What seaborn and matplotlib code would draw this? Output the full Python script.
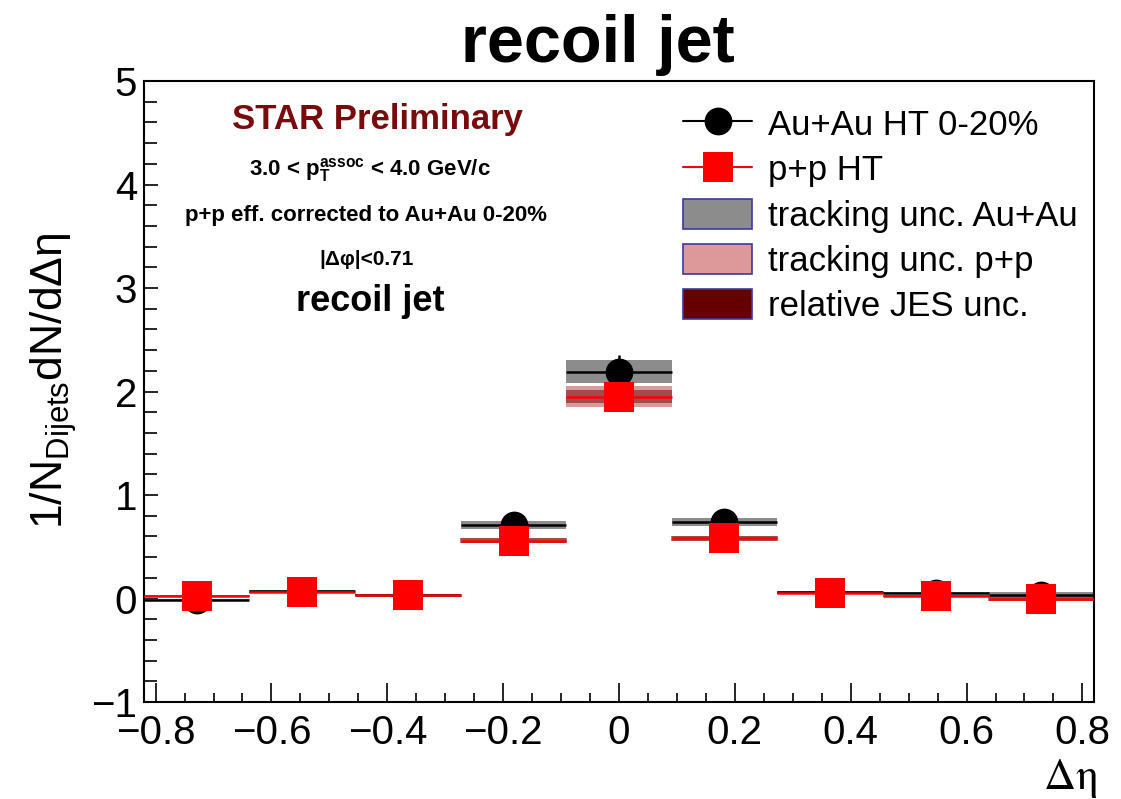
import numpy as np
import matplotlib
matplotlib.use("Agg")
import matplotlib.pyplot as plt
import seaborn as sns
from matplotlib.lines import Line2D
from matplotlib.patches import Patch
from matplotlib.ticker import MultipleLocator, FixedLocator, FixedFormatter

# ---------------- data ----------------
deta_centers = [-0.729, -0.547, -0.364, -0.182, 0.0, 0.182, 0.364, 0.547, 0.729]
bin_width = 0.182

auau_vals = [-0.01, 0.07, 0.03, 0.71, 2.19, 0.74, 0.06, 0.05, 0.03]
auau_stat = [0.03, 0.03, 0.03, 0.06, 0.165, 0.06, 0.03, 0.03, 0.03]
auau_trk = [0.01, 0.01, 0.005, 0.04, 0.11, 0.04, 0.01, 0.01, 0.03]

pp_vals = [0.025, 0.06, 0.035, 0.56, 1.95, 0.58, 0.05, 0.02, 0.00]
pp_stat = [0.02, 0.02, 0.02, 0.04, 0.10, 0.04, 0.02, 0.02, 0.02]
pp_trk = [0.01, 0.01, 0.01, 0.025, 0.10, 0.025, 0.01, 0.01, 0.02]
pp_jes = [0.01, 0.005, 0.005, 0.02, 0.06, 0.02, 0.01, 0.01, 0.025]

x_ticks = [-0.8, -0.6, -0.4, -0.2, 0.0, 0.2, 0.4, 0.6, 0.8]
x_tick_labels = ["\u22120.8", "\u22120.6", "\u22120.4", "\u22120.2", "0", "0.2", "0.4", "0.6", "0.8"]
y_ticks = [-1, 0, 1, 2, 3, 4, 5]
y_tick_labels = ["\u22121", "0", "1", "2", "3", "4", "5"]

legend_labels = ["Au+Au HT 0-20%", "p+p HT", "tracking unc. Au+Au",
                 "tracking unc. p+p", "relative JES unc."]

# ---------------- style ----------------
sns.set_theme(style="ticks")
plt.rcParams["font.family"] = ["Liberation Sans", "DejaVu Sans"]
plt.rcParams["mathtext.fontset"] = "custom"
plt.rcParams["mathtext.rm"] = "Liberation Sans"
plt.rcParams["mathtext.it"] = "Liberation Sans:italic"
plt.rcParams["mathtext.bf"] = "Liberation Sans:bold"
plt.rcParams["text.color"] = "black"
plt.rcParams["xtick.color"] = "black"
plt.rcParams["ytick.color"] = "black"
plt.rcParams["xtick.labelcolor"] = "black"
plt.rcParams["ytick.labelcolor"] = "black"
plt.rcParams["axes.edgecolor"] = "black"

C_GRAY = "#8c8c8c"
C_PINK = "#dd9999"
C_JES = "#660000"
C_RED = "#ff0000"

fig = plt.figure(figsize=(11.21, 7.99), dpi=100)
ax = fig.add_axes([144 / 1121, 1 - 702 / 799, (1094 - 144) / 1121, (702 - 81) / 799])

x = np.array(deta_centers)

# systematic boxes
ax.bar(x, 2 * np.array(auau_trk), bottom=np.array(auau_vals) - np.array(auau_trk),
       width=bin_width, color=C_GRAY, linewidth=0, zorder=1)
ax.bar(x, 2 * np.array(pp_trk), bottom=np.array(pp_vals) - np.array(pp_trk),
       width=bin_width, color=C_PINK, linewidth=0, zorder=2)
ax.bar(x, 2 * np.array(pp_jes), bottom=np.array(pp_vals) - np.array(pp_jes),
       width=bin_width * 1.01, color=C_JES, alpha=0.5, linewidth=0, zorder=3)

# horizontal bin lines + stat errors
ax.errorbar(x, auau_vals, xerr=bin_width / 2, yerr=auau_stat, fmt="none",
            ecolor="black", elinewidth=1.8, capsize=0, zorder=4)
ax.errorbar(x, pp_vals, xerr=bin_width / 2, yerr=pp_stat, fmt="none",
            ecolor=C_RED, elinewidth=1.8, capsize=0, zorder=5)

# markers
sns.scatterplot(x=x, y=auau_vals, marker="o", s=400, color="black",
                linewidth=0, ax=ax, zorder=6)
sns.scatterplot(x=x, y=pp_vals, marker="s", s=441, color=C_RED,
                linewidth=0, ax=ax, zorder=7)

ax.set_xlim(-0.82, 0.82)
ax.set_ylim(-1, 5)

# ticks
ax.xaxis.set_major_locator(FixedLocator(x_ticks))
ax.xaxis.set_major_formatter(FixedFormatter(x_tick_labels))
ax.xaxis.set_minor_locator(MultipleLocator(0.05))
ax.yaxis.set_major_locator(FixedLocator(y_ticks))
ax.yaxis.set_major_formatter(FixedFormatter(y_tick_labels))
ax.yaxis.set_minor_locator(MultipleLocator(0.2))
ax.tick_params(axis="both", which="both", direction="in", top=False, right=False,
               color="black", labelcolor="black", width=1.2)
ax.tick_params(axis="x", which="major", length=13.5, pad=9, labelsize=29)
ax.tick_params(axis="x", which="minor", length=6.5)
ax.tick_params(axis="y", which="major", length=10, pad=5, labelsize=29)
ax.tick_params(axis="y", which="minor", length=9)
for sp in ax.spines.values():
    sp.set_visible(True)
    sp.set_color("black")
    sp.set_linewidth(1.5)
ax.set_xlabel("")
ax.set_ylabel("")

# axis titles
fig.text(1097 / 1121, 1 - 778 / 799, r"$\mathrm{\Delta\eta}$", math_fontfamily="stix",
         fontsize=32, ha="right", va="center")
fig.text(54 / 1121, 1 - 381 / 799, "1/N$_{\\mathrm{Dijets}}$dN/d\u0394\u03b7",
         rotation=90, fontsize=32, ha="center", va="center")

# title
fig.text(598 / 1121, 1 - 45 / 799, "recoil jet", fontsize=48, fontweight="bold",
         ha="center", va="center")

# annotations
fig.text(377 / 1121, 1 - 120 / 799, "STAR Preliminary", fontsize=25, fontweight="bold",
         color="#780c0c", ha="center", va="center")
fig.text(370 / 1121, 1 - 170 / 799, r"3.0 < p$_{\mathbf{T}}^{\mathbf{assoc}}$ < 4.0 GeV/c",
         fontsize=16, fontweight="bold", ha="center", va="center")
fig.text(366 / 1121, 1 - 215 / 799, "p+p eff. corrected to Au+Au 0-20%",
         fontsize=16, fontweight="bold", ha="center", va="center")
fig.text(367 / 1121, 1 - 260 / 799, "|\u0394\u03c6|<0.71",
         fontsize=15, fontweight="bold", ha="center", va="center")
fig.text(370 / 1121, 1 - 302 / 799, "recoil jet",
         fontsize=26, fontweight="bold", ha="center", va="center")

# legend
handles = [
    Line2D([0], [0], color="black", lw=1.5, marker="o", markersize=20,
           markeredgewidth=0, markerfacecolor="black"),
    Line2D([0], [0], color=C_RED, lw=1.5, marker="s", markersize=21,
           markeredgewidth=0, markerfacecolor=C_RED),
    Patch(facecolor=C_GRAY, edgecolor="#3a3aa0", linewidth=1.2),
    Patch(facecolor=C_PINK, edgecolor="#3a3aa0", linewidth=1.2),
    Patch(facecolor=C_JES, edgecolor="#3a3aa0", linewidth=1.2),
]
leg = fig.legend(handles, legend_labels, loc="upper left",
                 bbox_to_anchor=(683 / 1121, 1 - 108 / 799), frameon=False,
                 fontsize=25, handlelength=2.0, handleheight=0.95,
                 handletextpad=0.45, labelspacing=0.33, borderpad=0,
                 borderaxespad=0)

fig.savefig("out.png", dpi=100)
